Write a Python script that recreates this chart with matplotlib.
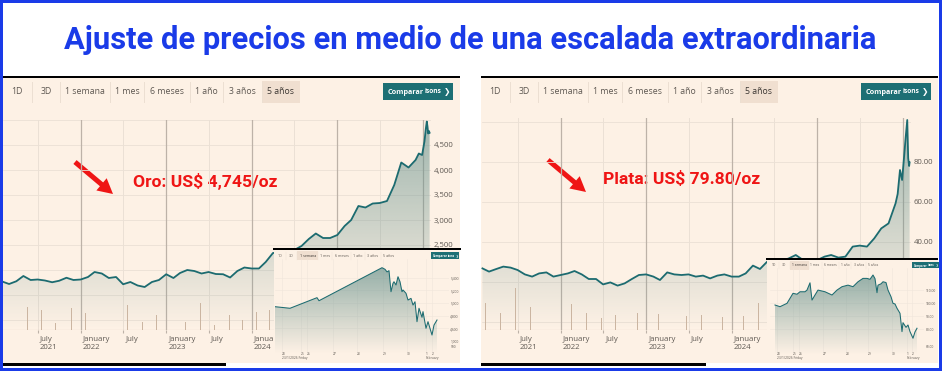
import numpy as np
import pandas as pd
import matplotlib
matplotlib.use("Agg")
import matplotlib.pyplot as plt
import matplotlib.dates as mdates
from matplotlib.patches import Rectangle, Polygon, FancyArrow
from matplotlib.transforms import ScaledTranslation

W, H = 942, 371

SANS = ["Open Sans", "DejaVu Sans"]
COND = ["Roboto", "DejaVu Sans"]
plt.rcParams["font.family"] = SANS

TITLE = "Ajuste de precios en medio de una escalada extraordinaria"
TABS = ["1D", "3D", "1 semana", "1 mes", "6 meses", "1 año", "3 años", "5 años"]
GOLD_LABEL = "Oro: US$ 4,745/oz"
SILVER_LABEL = "Plata: US$ 79.80/oz"

months = pd.date_range("2021-02-01", "2025-12-01", freq="MS")
gold_month = [1767, 1720, 1775, 1880, 1800, 1810, 1790, 1755, 1785, 1845, 1800,
              1810, 1860, 1960, 1930, 1840, 1860, 1715, 1760, 1690, 1660, 1760, 1800,
              1915, 1840, 1940, 2000, 1980, 1930, 1960, 1920, 1915, 1850, 1980, 2050,
              2030, 2030, 2160, 2340, 2350, 2330, 2400, 2480, 2620, 2730, 2640, 2640,
              2700, 2880, 3000, 3280, 3250, 3330, 3340, 3380, 3700, 4150, 4050, 4200]
gold_end_dates = ["2025-12-15", "2025-12-29", "2026-01-08", "2026-01-14", "2026-01-18",
                  "2026-01-21", "2026-01-24", "2026-01-27", "2026-01-30"]
gold_end = [4330, 4300, 4570, 4830, 4970, 4870, 4730, 4780, 4745]

silver_month = [26.8, 25.2, 26.5, 27.7, 27.2, 26.0, 23.8, 22.7, 24.3, 24.8, 22.7,
                23.5, 24.3, 25.5, 23.8, 21.5, 21.5, 18.8, 19.8, 18.2, 19.3, 21.5, 23.5,
                23.8, 22.7, 21.0, 24.8, 23.8, 23.5, 23.8, 22.7, 23.2, 21.8, 23.2, 23.8,
                22.7, 22.7, 24.3, 28.2, 26.5, 30.2, 31.0, 30.5, 31.8, 33.5, 31.0, 30.2,
                31.0, 32.7, 33.5, 32.2, 32.7, 37.7, 38.2, 37.7, 41.8, 46.8, 49.3, 59.3]
silver_end_dates = ["2025-12-10", "2025-12-20", "2025-12-29", "2026-01-06", "2026-01-13",
                    "2026-01-20", "2026-01-24", "2026-01-28", "2026-01-30"]
silver_end = [64, 76, 71, 82, 92, 101, 82, 78, 79.8]

gold_vol_dates = ["2021-03-22", "2021-05-17", "2021-07-17", "2021-09-16", "2021-11-23",
                  "2022-01-23", "2022-03-20", "2022-05-19", "2022-07-19", "2022-09-22",
                  "2022-11-21", "2023-01-26", "2023-03-25", "2023-05-28", "2023-07-27",
                  "2023-09-27", "2023-11-23", "2024-01-21", "2024-03-18"]
gold_vol = [17, 23, 20, 7, 22, 17, 3, 18, 25, 8, 15, 20, 8, 27, 5, 15, 10, 18, 20]
silver_vol_dates = ["2021-02-15", "2021-04-19", "2021-06-23", "2021-08-26", "2021-11-25",
                    "2022-02-17", "2022-04-21", "2022-06-24", "2022-08-24", "2022-11-24",
                    "2023-02-24", "2023-04-21", "2023-06-22", "2023-08-27", "2023-11-23",
                    "2024-02-22", "2024-04-24"]
silver_vol = [27, 17, 42, 23, 26, 26, 17, 12, 15, 17, 16, 18, 14, 15, 13, 14, 27]

# solo las etiquetas que no tapa el recuadro
xtick_dates = ["2021-07-01", "2022-01-01", "2022-07-01", "2023-01-01", "2023-07-01",
               "2024-01-01"]
xtick_labels = ["July\n2021", "January\n2022", "July", "January\n2023", "July",
                "January\n2024"]

# ---- 1 semana (recuadros), x en horas aprox. ----
gold_wk_t = [0, 15, 42, 44, 107, 110, 112, 114, 116, 118, 119, 121, 123, 125, 127,
             128, 131, 133, 136, 138, 140, 142, 144, 147, 148, 151, 153, 157, 159, 162]
gold_wk = [4942, 4917, 5084, 5036, 5556, 5531, 5490, 5509, 5178, 5310, 5335, 5284, 5414,
           5335, 5178, 5205, 5153, 5047, 5073, 4968, 5020, 4706, 4917, 4775, 4864, 4602,
           4706, 4496, 4653, 4732]
silver_wk_t = [5, 10, 17, 23, 27, 30, 35, 37, 40, 42, 45, 48, 55, 62, 67, 72, 78, 83, 88,
               93, 97, 100, 103, 105, 107, 108, 111, 113, 116, 118, 121, 123, 125, 127,
               130, 132, 133, 136, 138, 140, 143, 145, 147]
silver_wk = [98.7, 97.4, 100, 107.7, 107, 108.9, 108.9, 110.2, 115.8, 102.5, 106.4, 110.2,
             108.9, 106.4, 110.2, 112.8, 114, 112.8, 116.6, 119.2, 119.2, 118.5, 121.8, 119,
             108.2, 114, 115, 116.6, 116, 110.2, 105.1, 100, 99.5, 96.2, 92.3, 78.2, 85.1,
             81.5, 83.3, 78.2, 73.1, 78, 80.8]
gold_wk_vol_t = [61, 100, 103, 107, 110, 112, 114, 116, 117, 119, 125, 132]
gold_wk_vol = [1, 3, 4, 5, 6, 8, 4, 15, 7, 3, 2, 1.5]
silver_wk_vol_t = [13, 26, 40, 105, 107, 123, 132, 133]
silver_wk_vol = [1.7, 2, 3, 5, 11.7, 4, 3, 3]
gold_day_t = [7, 26, 32, 58, 82, 108, 132, 151, 157]
silver_day_t = [7, 23, 29, 53, 76, 98, 122, 137, 142]
day_labels = ["23", "25", "26", "27", "28", "29", "30", "1", "2"]
day_notes = {0: "23/1/2026 Friday", 7: "February"}

BEIGE = "#fdf1e5"
TEAL = "#1c6b70"
GRID_DARK = "#bdb2a8"
GRID_LIGHT = "#ebe0d5"
TXT = "#5f5953"
VOL = "#cbb5a1"
BLUE = "#1a3be8"
RED = "#ef1515"
BTN = "#1d6f74"
TABHI = "#f0dfd0"


def px(x0, y0, x1, y1):
    return [x0 / W, 1 - y1 / H, (x1 - x0) / W, (y1 - y0) / H]


def shade(ax, x, y, top_alpha=0.6, rgb=(0.40, 0.57, 0.55)):
    x = np.asarray(x, float)
    y = np.asarray(y, float)
    (xa, xb), (ya, yb) = ax.get_xlim(), ax.get_ylim()
    verts = np.column_stack([np.r_[x[0], x, x[-1]], np.r_[ya, y, ya]])
    poly = Polygon(verts, closed=True, fc="none", ec="none")
    ax.add_patch(poly)
    grad = np.zeros((64, 2, 4))
    grad[..., :3] = rgb
    grad[..., 3] = np.linspace(top_alpha, 0, 64)[:, None]
    im = ax.imshow(grad, extent=(xa, xb, ya, yb), origin="upper", aspect="auto",
                   zorder=2, interpolation="bilinear")
    im.set_clip_path(poly)
    ax.set_xlim(xa, xb)
    ax.set_ylim(ya, yb)


def chrome(ax, left, top, s, active):
    edges = [0, 28.7, 57, 107, 141, 187, 219.7, 258.7, 297]
    ax.add_patch(Rectangle((left + edges[active] * s, top + 3 * s),
                           (edges[active + 1] - edges[active]) * s, 22 * s, color=TABHI, lw=0))
    for i, name in enumerate(TABS):
        cx = left + (edges[i] + edges[i + 1]) / 2 * s
        ax.text(cx, top + 14 * s, name, ha="center", va="center", fontsize=6.3 * s,
                color=TXT if i != active else "#3b3632")
        if i > 0:
            ax.plot([left + edges[i] * s] * 2, [top + 4 * s, top + 24 * s],
                    color="#ecdfd2", lw=0.7 * s)
    ax.add_patch(Rectangle((left + 380 * s, top + 5.3 * s), 70 * s, 16.7 * s, color=BTN, lw=0))
    t = ax.text(left + 385 * s, top + 14.5 * s, "Comparar", ha="left", va="center",
                fontsize=5.2 * s, color="white", weight="bold")
    ax.annotate("isons", xy=(1, 0.5), xycoords=t, xytext=(0.2 * s, 0.7 * s),
                textcoords="offset points", ha="left", va="center",
                fontsize=4.8 * s, color="white", weight="bold")
    ax.text(left + 444 * s, top + 14 * s, "❯", ha="center", va="center",
            fontsize=5.5 * s, color="white", family="DejaVu Sans")


def five_year(x0, x1, y0, y1, xlim, ylim, dates, vals, grid_y, tick_y, fmt, vdates, vvals):
    ax = fig.add_axes(px(x0, y0, x1, y1), zorder=1)
    ax.patch.set_visible(False)
    ax.set_xlim(pd.Timestamp(xlim[0]), pd.Timestamp(xlim[1]))
    ax.set_ylim(*ylim)
    for yr in range(2021, 2027):
        ax.axvline(pd.Timestamp(f"{yr}-01-01"), color=GRID_DARK, lw=0.9, zorder=0.5)
        ax.axvline(pd.Timestamp(f"{yr}-07-01"), color=GRID_LIGHT, lw=0.7, zorder=0.5)
    for g in grid_y:
        ax.axhline(g, color=GRID_LIGHT, lw=0.6, zorder=0.4)
    shade(ax, mdates.date2num(dates), vals, top_alpha=0.62)
    ax.plot(dates, vals, color=TEAL, lw=1.3, zorder=3, solid_joinstyle="round", clip_on=False)
    for sp in ax.spines.values():
        sp.set_visible(False)
    ax.yaxis.tick_right()
    ax.set_yticks(tick_y)
    ax.set_yticklabels([fmt(v) for v in tick_y])
    ax.tick_params(axis="y", length=0, pad=2, labelsize=5.6, labelcolor=TXT)
    ax.set_xticks(pd.to_datetime(xtick_dates))
    ax.set_xticklabels(xtick_labels, ha="left", linespacing=1.35)
    ax.tick_params(axis="x", length=2.5, color=GRID_DARK, pad=1.5, labelsize=5.6, labelcolor=TXT)
    for lbl in ax.get_xticklabels():
        lbl.set_transform(lbl.get_transform() + ScaledTranslation(1.5 / 72, 0, fig.dpi_scale_trans))

    vax = fig.add_axes(px(x0, 285, x1, 330), zorder=1.2)
    vax.patch.set_visible(False)
    vax.axis("off")
    vax.set_xlim(pd.Timestamp(xlim[0]), pd.Timestamp(xlim[1]))
    vax.set_ylim(0, 45)
    vax.bar(pd.to_datetime(vdates), vvals, width=3.5, color=VOL)
    vax.axhline(0.4, color=VOL, lw=0.8)
    return ax


def one_week(x0, x1, y0, y1, xmax, ylim, t, vals, tick_y, fmt, vt, vv, vticks, vlabels, day_t):
    ax = fig.add_axes(px(x0, y0, x1, y1), zorder=6)
    ax.patch.set_visible(False)
    ax.set_xlim(0, xmax)
    ax.set_ylim(*ylim)
    for g in tick_y:
        ax.axhline(g, color="#f0e5db", lw=0.4, zorder=0.4)
    for d in day_t:
        ax.axvline(d, color="#f0e5db", lw=0.4, zorder=0.4)
    shade(ax, t, vals, top_alpha=0.75)
    ax.plot(t, vals, color=TEAL, lw=0.75, zorder=3)
    for sp in ax.spines.values():
        sp.set_visible(False)
    ax.yaxis.tick_right()
    ax.set_yticks(tick_y)
    ax.set_yticklabels([fmt(v) for v in tick_y])
    ax.tick_params(axis="y", length=0, pad=1, labelsize=2.4, labelcolor=TXT)
    ax.set_xticks([])

    vax = fig.add_axes(px(x0, 336, x1, 351), zorder=6.2)
    vax.patch.set_visible(False)
    for sp in vax.spines.values():
        sp.set_visible(False)
    vax.set_xlim(0, xmax)
    vax.set_ylim(0, 15)
    vax.bar(vt, vv, width=0.9, color=VOL)
    vax.axhline(0.2, color=VOL, lw=0.4)
    vax.yaxis.tick_right()
    vax.set_yticks(vticks)
    vax.set_yticklabels(vlabels)
    vax.set_xticks(day_t)
    vax.set_xticklabels(day_labels, ha="left")
    vax.tick_params(length=0, pad=1, labelsize=2.3, labelcolor=TXT)
    for i, note in day_notes.items():
        vax.text(day_t[i], -0.5, note, transform=vax.get_xaxis_transform(),
                 ha="left", va="center", fontsize=2.3, color=TXT)


fig = plt.figure(figsize=(W / 100, H / 100), dpi=100)
fig.patch.set_facecolor("white")

bg = fig.add_axes([0, 0, 1, 1], zorder=0)
bg.set_xlim(0, W)
bg.set_ylim(H, 0)
bg.axis("off")
bg.add_patch(Rectangle((3, 78), 457, 285, color=BEIGE, lw=0))
bg.add_patch(Rectangle((481, 78), 457, 285, color=BEIGE, lw=0))
bg.add_patch(Rectangle((3, 75.5), 457, 2.8, color="black", lw=0))
bg.add_patch(Rectangle((481, 75.5), 457, 2.8, color="black", lw=0))
bg.add_patch(Rectangle((3, 362.5), 223, 3.2, color="black", lw=0))
bg.add_patch(Rectangle((481, 362.5), 225, 3.2, color="black", lw=0))
bg.text(470, 40, TITLE, ha="center", va="center", fontsize=22.2, weight="bold",
        color=BLUE, family=COND)
chrome(bg, 3, 78, 1.0, 7)
chrome(bg, 481, 78, 1.0, 7)
bg.add_patch(FancyArrow(75, 162, 38, 32, width=5, head_width=16, head_length=15,
                        length_includes_head=True, color=RED, lw=0))
bg.add_patch(FancyArrow(548, 160, 38, 32, width=5, head_width=16, head_length=15,
                        length_includes_head=True, color=RED, lw=0))
bg.text(133, 181, GOLD_LABEL, ha="left", va="center", fontsize=12.6, weight="bold",
        color=RED, family=COND)
bg.text(603, 179, SILVER_LABEL, ha="left", va="center", fontsize=12.6, weight="bold",
        color=RED, family=COND)

gold_dates = list(months) + list(pd.to_datetime(gold_end_dates))
silver_dates = list(months) + list(pd.to_datetime(silver_end_dates))

five_year(3, 431, 120, 330, ("2021-02-03", "2026-02-05"), (800, 5000),
          gold_dates, gold_month + gold_end, range(1000, 5001, 500),
          [2500, 3000, 3500, 4000, 4500], lambda v: f"{v:,.0f}", gold_vol_dates, gold_vol)
five_year(482, 911, 118, 330, ("2021-01-30", "2026-02-05"), (-4, 102),
          silver_dates, silver_month + silver_end, range(0, 101, 20),
          [40, 60, 80], lambda v: f"{v:.2f}", silver_vol_dates, silver_vol)

# recuadros de 1 semana encima
ov = fig.add_axes([0, 0, 1, 1], zorder=5)
ov.set_xlim(0, W)
ov.set_ylim(H, 0)
ov.axis("off")
ov.patch.set_visible(False)
ov.add_patch(Rectangle((274, 250), 186, 113, color=BEIGE, lw=0))
ov.add_patch(Rectangle((273, 248), 188, 2.2, color="black", lw=0))
ov.add_patch(Rectangle((767, 260), 171, 103, color=BEIGE, lw=0))
ov.add_patch(Rectangle((766, 258), 172, 2.2, color="black", lw=0))
chrome(ov, 274, 250, 0.412, 2)
chrome(ov, 768, 260, 0.38, 2)
# marco azul
for r in [(0, 0, 3, H), (938.5, 0, 3.5, H), (0, 0, W, 2.5), (0, 367.5, W, 3.5)]:
    ov.add_patch(Rectangle((r[0], r[1]), r[2], r[3], color=BLUE, lw=0))

one_week(275, 449, 259, 354, 174, (4197, 5693), gold_wk_t, gold_wk,
         [4600, 4800, 5000, 5200, 5400], lambda v: f"{v:,.0f}",
         gold_wk_vol_t, gold_wk_vol, [4, 10], ["500", "1,000"], gold_day_t)
one_week(770, 924, 268, 355, 154, (60.2, 127.2), silver_wk_t, silver_wk,
         [80, 90, 100, 110], lambda v: f"{v:.2f}",
         silver_wk_vol_t, silver_wk_vol, [4], ["60.00"], silver_day_t)

fig.savefig("out.png", dpi=100, facecolor="white")
